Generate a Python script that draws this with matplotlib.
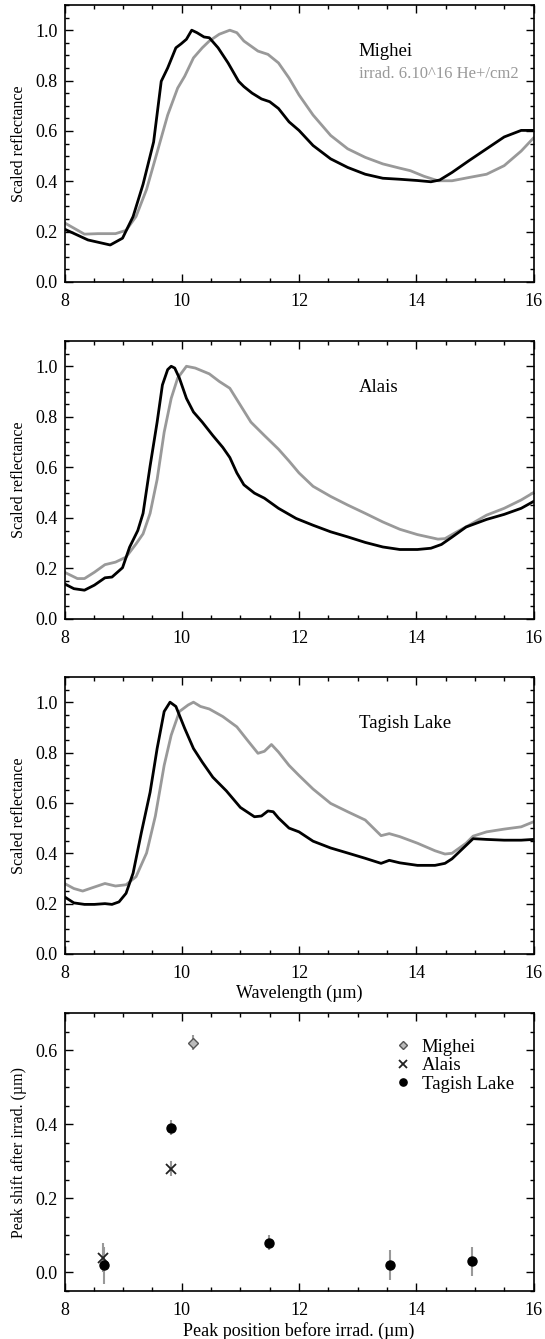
import matplotlib
matplotlib.use("Agg")
import matplotlib.pyplot as plt
from matplotlib.ticker import MultipleLocator

plt.rcParams['font.family'] = ['Liberation Serif', 'DejaVu Serif']

# Mighei spectra (wavelength in micron, scaled reflectance)
mig_wl = [8.0, 8.4, 8.78, 8.99, 9.17, 9.34, 9.52, 9.65, 9.76, 9.9, 9.99, 10.08, 10.17,
          10.26, 10.38, 10.47, 10.62, 10.79, 10.97, 11.06, 11.2, 11.36, 11.5, 11.65,
          11.83, 12.0, 12.24, 12.54, 12.83, 13.13, 13.43, 13.72, 14.02, 14.25, 14.4,
          14.61, 14.9, 15.2, 15.5, 15.79, 16.0]
mig_ref = [0.21, 0.167, 0.147, 0.174, 0.26, 0.388, 0.556, 0.797, 0.85, 0.93, 0.946, 0.964, 1.0,
           0.99, 0.973, 0.97, 0.93, 0.87, 0.797, 0.776, 0.75, 0.727, 0.716, 0.689,
           0.636, 0.602, 0.542, 0.489, 0.455, 0.428, 0.412, 0.408, 0.403, 0.398, 0.405,
           0.435, 0.482, 0.529, 0.576, 0.602, 0.602]
mig_irr_wl = [8.0, 8.34, 8.57, 8.87, 9.05, 9.22, 9.4, 9.58, 9.76, 9.93, 10.05, 10.2, 10.35,
              10.47, 10.64, 10.82, 10.94, 11.06, 11.3, 11.47, 11.65, 11.83, 12.0, 12.24,
              12.54, 12.83, 13.13, 13.43, 13.72, 13.9, 14.13, 14.37, 14.61, 14.9, 15.2,
              15.5, 15.79, 16.0]
mig_irr_ref = [0.235, 0.19, 0.192, 0.192, 0.205, 0.26, 0.368, 0.515, 0.663, 0.77, 0.817, 0.89,
               0.93, 0.957, 0.984, 1.0, 0.99, 0.957, 0.917, 0.904, 0.87, 0.81, 0.743, 0.663,
               0.582, 0.529, 0.495, 0.469, 0.452, 0.442, 0.42, 0.402, 0.402, 0.415, 0.428,
               0.462, 0.52, 0.572]

# Alais spectra
ala_wl = [8.0, 8.16, 8.34, 8.51, 8.69, 8.81, 8.99, 9.11, 9.25, 9.34, 9.46, 9.58, 9.67, 9.76,
          9.82, 9.88, 9.96, 10.08, 10.2, 10.35, 10.53, 10.7, 10.82, 10.94, 11.06, 11.24,
          11.41, 11.65, 11.95, 12.24, 12.54, 12.83, 13.13, 13.43, 13.72, 14.02, 14.25,
          14.43, 14.61, 14.85, 15.2, 15.5, 15.79, 16.0]
ala_ref = [0.139, 0.12, 0.114, 0.134, 0.163, 0.166, 0.203, 0.284, 0.35, 0.418, 0.605, 0.779,
           0.926, 0.987, 1.0, 0.993, 0.953, 0.873, 0.819, 0.779, 0.726, 0.679, 0.639, 0.578,
           0.531, 0.498, 0.478, 0.438, 0.398, 0.371, 0.345, 0.325, 0.303, 0.285, 0.275,
           0.275, 0.28, 0.295, 0.324, 0.364, 0.394, 0.414, 0.438, 0.465]
ala_irr_wl = [8.0, 8.22, 8.34, 8.51, 8.69, 8.87, 9.05, 9.22, 9.34, 9.46, 9.58, 9.7, 9.82, 9.93,
              10.08, 10.23, 10.47, 10.64, 10.82, 11.0, 11.18, 11.41, 11.65, 11.83, 12.0,
              12.24, 12.54, 12.83, 13.13, 13.43, 13.72, 14.02, 14.37, 14.49, 14.67, 14.9,
              15.2, 15.5, 15.79, 16.0]
ala_irr_ref = [0.185, 0.16, 0.16, 0.185, 0.215, 0.225, 0.245, 0.297, 0.337, 0.418, 0.552,
               0.739, 0.873, 0.953, 1.0, 0.993, 0.97, 0.94, 0.913, 0.846, 0.779, 0.726,
               0.672, 0.625, 0.578, 0.525, 0.485, 0.451, 0.418, 0.384, 0.355, 0.334, 0.316,
               0.318, 0.342, 0.371, 0.411, 0.438, 0.471, 0.5]

# Tagish Lake spectra
tag_wl = [8.0, 8.16, 8.34, 8.51, 8.69, 8.81, 8.93, 9.05, 9.17, 9.31, 9.46, 9.58, 9.7, 9.8,
          9.9, 10.05, 10.2, 10.35, 10.53, 10.76, 11.0, 11.24, 11.36, 11.47, 11.56, 11.65,
          11.83, 12.0, 12.24, 12.54, 12.83, 13.13, 13.4, 13.54, 13.72, 14.02, 14.32,
          14.49, 14.61, 14.79, 14.97, 15.2, 15.5, 15.79, 16.0]
tag_ref = [0.227, 0.203, 0.197, 0.197, 0.2, 0.197, 0.207, 0.241, 0.321, 0.481, 0.642, 0.816,
           0.963, 1.0, 0.983, 0.896, 0.816, 0.762, 0.702, 0.648, 0.582, 0.545, 0.548, 0.568,
           0.565, 0.54, 0.5, 0.485, 0.448, 0.421, 0.401, 0.38, 0.36, 0.372, 0.362, 0.352,
           0.352, 0.36, 0.378, 0.418, 0.458, 0.455, 0.452, 0.452, 0.455]
tag_irr_wl = [8.0, 8.16, 8.31, 8.46, 8.69, 8.87, 9.05, 9.22, 9.4, 9.55, 9.7, 9.82, 9.96, 10.11,
              10.2, 10.32, 10.47, 10.7, 10.94, 11.12, 11.3, 11.41, 11.53, 11.65, 11.83,
              12.0, 12.24, 12.54, 12.83, 13.13, 13.4, 13.54, 13.72, 14.02, 14.32, 14.49,
              14.61, 14.85, 14.97, 15.2, 15.5, 15.79, 16.0]
tag_irr_ref = [0.28, 0.26, 0.25, 0.262, 0.28, 0.27, 0.275, 0.307, 0.401, 0.548, 0.749, 0.869,
               0.963, 0.989, 1.0, 0.983, 0.973, 0.943, 0.902, 0.849, 0.797, 0.805, 0.832,
               0.802, 0.749, 0.709, 0.655, 0.598, 0.565, 0.532, 0.47, 0.478, 0.466, 0.44,
               0.41, 0.397, 0.4, 0.44, 0.468, 0.485, 0.496, 0.505, 0.525]

# peak shift after irradiation vs peak position before
mig_pos = [10.2]
mig_shift = [0.62]
mig_err = [0.02]
ala_pos = [8.65, 9.82]
ala_shift = [0.04, 0.28]
ala_err = [0.04, 0.02]
tag_pos = [8.68, 9.82, 11.48, 13.55, 14.95]
tag_shift = [0.02, 0.39, 0.08, 0.02, 0.03]
tag_err = [0.05, 0.02, 0.02, 0.04, 0.04]

GREY = '#999999'
W, H = 545, 1339
fig = plt.figure(figsize=(W / 100, H / 100), dpi=100)


def make_axes(top, bottom):
    left, right = 64.5, 533.5
    ax = fig.add_axes([left / W, 1 - bottom / H, (right - left) / W, (bottom - top) / H])
    ax.set_xlim(8, 16)
    ax.xaxis.set_major_locator(MultipleLocator(2))
    ax.xaxis.set_minor_locator(MultipleLocator(0.5))
    ax.yaxis.set_major_locator(MultipleLocator(0.2))
    ax.yaxis.set_minor_locator(MultipleLocator(0.05))
    ax.tick_params(which='both', direction='in', top=True, right=True, width=1.0, labelsize=13)
    ax.tick_params(which='major', length=6)
    ax.tick_params(which='minor', length=3)
    ax.tick_params(axis='x', pad=8)
    ax.tick_params(axis='y', pad=5)
    for s in ax.spines.values():
        s.set_linewidth(1.2)
    return ax


spectra = [
    (5, 282, mig_wl, mig_ref, mig_irr_wl, mig_irr_ref, 'Mighei'),
    (341, 619, ala_wl, ala_ref, ala_irr_wl, ala_irr_ref, 'Alais'),
    (677, 954, tag_wl, tag_ref, tag_irr_wl, tag_irr_ref, 'Tagish Lake'),
]

for top, bottom, wl, ref, wl2, ref2, name in spectra:
    ax = make_axes(top, bottom)
    ax.plot(wl2, ref2, color=GREY, lw=2.0, solid_joinstyle='round')
    ax.plot(wl, ref, color='black', lw=2.0, solid_joinstyle='round')
    ax.set_ylim(0, 1.1)
    ax.set_ylabel('Scaled reflectance', fontsize=11.5, labelpad=6)
    ax.text(13.02, 0.915, name, fontsize=13.5, va='center')
    if name == 'Mighei':
        ax.text(13.02, 0.825, 'irrad. 6.10^16 He+/cm2', fontsize=12, color=GREY, va='center')
    if name == 'Tagish Lake':
        ax.set_xlabel('Wavelength (µm)', fontsize=13, labelpad=2)

# bottom panel: peak shifts
ax = make_axes(1013, 1291)
ax.set_ylim(-0.05, 0.7)
ax.errorbar(mig_pos, mig_shift, yerr=mig_err, fmt='none', ecolor=GREY, elinewidth=1.5)
ax.errorbar(ala_pos, ala_shift, yerr=ala_err, fmt='none', ecolor=GREY, elinewidth=1.5)
ax.errorbar(tag_pos, tag_shift, yerr=tag_err, fmt='none', ecolor=GREY, elinewidth=1.5)
ax.plot(mig_pos, mig_shift, 'D', ms=5.5, mfc='#bbbbbb', mec='#555555', mew=1.0,
        ls='none', label='Mighei')
ax.plot(ala_pos, ala_shift, 'x', ms=7, color='#222222', mew=1.3, ls='none', label='Alais')
ax.plot(tag_pos, tag_shift, 'o', ms=6.5, color='black', ls='none', label='Tagish Lake')
leg = ax.legend(loc='upper right', bbox_to_anchor=(0.958, 0.908), frameon=False, fontsize=13.5,
                handlelength=0.8, handletextpad=0.6, labelspacing=0.08, markerscale=0.8,
                borderpad=0, borderaxespad=0)
ax.set_ylabel('Peak shift after irrad. (µm)', fontsize=11.5, labelpad=6)
ax.set_xlabel('Peak position before irrad. (µm)', fontsize=13, labelpad=2)

fig.savefig('out.png', dpi=100)
